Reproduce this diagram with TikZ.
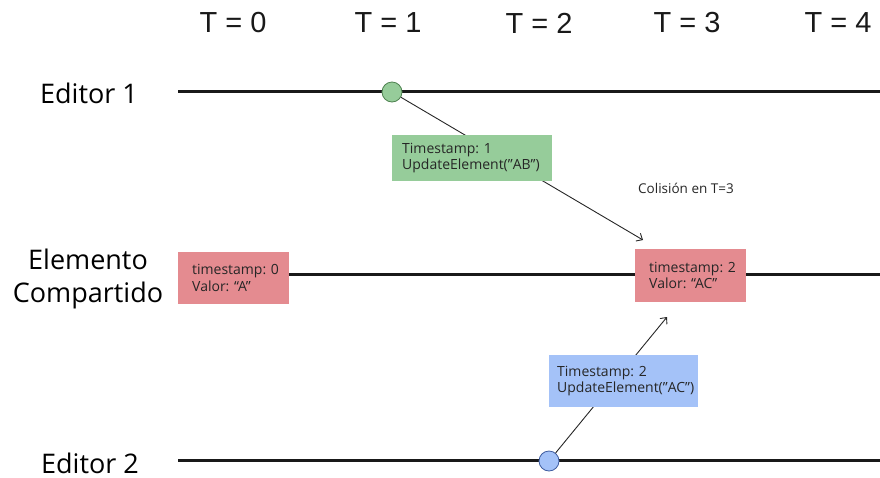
\documentclass[tikz,border=0pt]{standalone}
\usepackage{fontspec}
\setmainfont{Open Sans}
\newfontfamily\tickfont{Liberation Sans}
\usetikzlibrary{arrows.meta}
\frenchspacing

\definecolor{boxgreen}{RGB}{150,204,154}
\definecolor{boxred}{RGB}{228,139,144}
\definecolor{boxblue}{RGB}{164,194,248}
\definecolor{edgegreen}{RGB}{78,130,80}
\definecolor{edgeblue}{RGB}{62,92,160}

% left padding inside the state boxes
\newcommand{\padl}{\hspace*{8pt}}

\tikzset{
  tick/.style={font=\tickfont\fontsize{29}{32}\selectfont, text=black!90},
  rowlabel/.style={font=\fontsize{27}{33}\selectfont, align=center},
  timeline/.style={line width=3pt, black!90},
  event/.style={circle, minimum size=20pt, inner sep=0pt, line width=0.8pt},
  msgbox/.style={anchor=north west, align=left, inner ysep=0pt,
    font=\fontsize{14}{16.5}\selectfont, text=black!85},
  statebox/.style={msgbox, fill=boxred, minimum width=111pt,
    text width=99pt, inner xsep=6pt},
  msg/.style={line width=0.9pt, black!85, -{Straight Barb[length=5pt,width=9pt]}},
}

\begin{document}
\begin{tikzpicture}[x=1pt, y=-1pt]
  \useasboundingbox (0,0) rectangle (880,477);

  % time ticks
  \node[tick] (t0) at (233,23) {T = 0};
  \node[tick] (t1) at (388,23) {T = 1};
  \node[tick] (t2) at (539,23) {T = 2};
  \node[tick] (t3) at (687,23) {T = 3};
  \node[tick] (t4) at (838,23) {T = 4};

  % row labels
  \node[rowlabel] (ed1) at (89,93) {Editor 1};
  \node[rowlabel] (shared) at (88,279) {Elemento\\Compartido};
  \node[rowlabel, inner sep=0pt] (ed2) at (90,463) {Editor 2};

  % timelines
  \coordinate (e1a) at (178,91);  \coordinate (e1b) at (880,91);
  \coordinate (sha) at (178,274); \coordinate (shb) at (880,274);
  \coordinate (e2a) at (178,460); \coordinate (e2b) at (880,460);
  \draw[timeline] (e1a) -- (e1b);
  \draw[timeline] (sha) -- (shb);
  \draw[timeline] (e2a) -- (e2b);

  % update messages
  \coordinate (tipA) at (643,240);
  \coordinate (tipB) at (667,317);
  \node[event, draw=edgegreen, fill=boxgreen] (evA) at (392,92) {};
  \node[event, draw=edgeblue, fill=boxblue] (evB) at (549,461) {};
  \draw[msg] (evA) -- (tipA);
  \draw[msg] (evB) -- (tipB);

  \node[msgbox, fill=boxgreen, minimum width=160pt, minimum height=46pt,
        text width=140pt, inner xsep=10pt] (updA) at (392,135)
        {Timestamp: 1\\UpdateElement(”AB”)};
  \node[msgbox, fill=boxblue, minimum width=149pt, minimum height=52pt,
        text width=133pt, inner xsep=8pt] (updB) at (549,355)
        {Timestamp: 2\\UpdateElement(”AC”)};

  % shared element states
  \node[statebox, minimum height=52pt] (stA) at (178,252)
        {\padl timestamp: 0\\\padl Valor: “A”};
  \node[statebox, minimum height=53pt] (stB) at (635,249)
        {\padl timestamp: 2\\\padl Valor: “AC”};

  \node[font=\fontsize{13.5}{16}\selectfont, text=black!85] (coll) at (686,188)
        {Colisión en T=3};
\end{tikzpicture}
\end{document}
